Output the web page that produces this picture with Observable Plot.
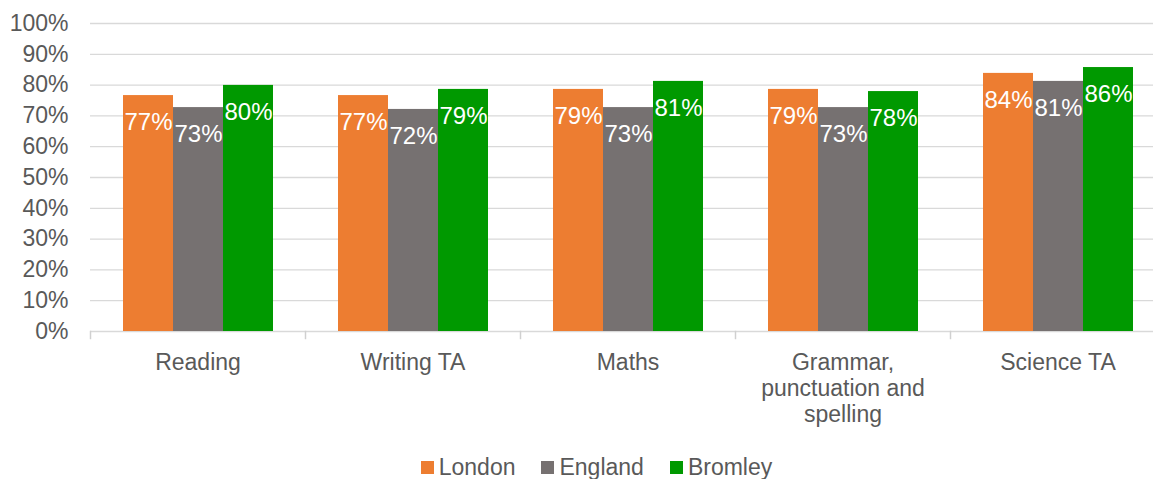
<!DOCTYPE html>
<html>
<head>
<meta charset="utf-8">
<script src="https://cdn.jsdelivr.net/npm/d3@7"></script>
<script src="https://cdn.jsdelivr.net/npm/@observablehq/plot@0.6"></script>
<style>
  html, body { margin: 0; padding: 0; background: #fff; overflow: hidden; }
  body { width: 1153px; height: 479px; font-family: "Liberation Sans", Arial, sans-serif; }
  #legend { display: flex; justify-content: center; gap: 26px; padding-left: 40px; margin-top: 2px;
            font-size: 23px; color: #595959; line-height: 30px; }
  #legend .item { display: flex; align-items: center; gap: 5px; }
  #legend .sw { width: 13px; height: 13px; display: inline-block; }
</style>
</head>
<body>
<div id="chart"></div>
<div id="legend"></div>
<script>
const categories = ["Reading", "Writing TA", "Maths", "Grammar, punctuation and spelling", "Science TA"];
const categoryLabels = ["Reading", "Writing TA", "Maths", "Grammar,\npunctuation and\nspelling", "Science TA"];
const series = ["London", "England", "Bromley"];
const colors = ["#ED7D31", "#767171", "#009900"];
const london  = [0.766, 0.766, 0.786, 0.786, 0.838];
const england = [0.727, 0.721, 0.727, 0.727, 0.812];
const bromley = [0.799, 0.786, 0.812, 0.779, 0.857];
const yTicks = [0, 0.1, 0.2, 0.3, 0.4, 0.5, 0.6, 0.7, 0.8, 0.9, 1.0];

const values = [london, england, bromley];
const data = [];
categories.forEach((c, i) => series.forEach((s, j) => data.push({category: c, series: s, value: values[j][i]})));
const labelOf = new Map(categories.map((c, i) => [c, categoryLabels[i]]));

const W = 1153, H = 450, mTop = 23, mBottom = 119;

const chart = Plot.plot({
  width: W,
  height: H,
  marginTop: mTop,
  marginBottom: mBottom,
  marginLeft: 90,
  marginRight: -12,
  style: {fontFamily: "'Liberation Sans', Arial, sans-serif", color: "#595959", background: "white"},
  fx: {domain: categories, padding: 0, label: null},
  x: {domain: series, paddingInner: 0, paddingOuter: 0.61, axis: null},
  y: {domain: [0, 1], label: null},
  color: {domain: series, range: colors},
  marks: [
    Plot.gridY(yTicks, {stroke: "#d9d9d9", strokeOpacity: 1, strokeWidth: 1.3}),
    Plot.frame({anchor: "left", stroke: "#d0d0d0", strokeWidth: 1.5, insetTop: H - mTop - mBottom, insetBottom: -7}),
    Plot.barY(data, {fx: "category", x: "series", y: "value", fill: "series"}),
    Plot.text(data, {fx: "category", x: "series", y: "value", text: d => Math.round(d.value * 100) + "%",
      fill: "white", fontSize: 24, dy: 27, lineAnchor: "middle"}),
    Plot.axisY(yTicks, {tickFormat: d => Math.round(d * 100) + "%", tickSize: 0, tickPadding: 22,
      fontSize: 23, label: null, fill: "#595959"}),
    Plot.axisFx({anchor: "bottom", tickSize: 0, tickPadding: 20, fontSize: 23, lineHeight: 1.13, label: null,
      tickFormat: d => labelOf.get(d), fill: "#595959"})
  ]
});
document.getElementById("chart").appendChild(chart);

const legend = document.getElementById("legend");
series.forEach((s, i) => {
  const item = document.createElement("span");
  item.className = "item";
  const sw = document.createElement("span");
  sw.className = "sw";
  sw.style.background = colors[i];
  item.appendChild(sw);
  item.appendChild(document.createTextNode(s));
  legend.appendChild(item);
});
</script>
</body>
</html>
